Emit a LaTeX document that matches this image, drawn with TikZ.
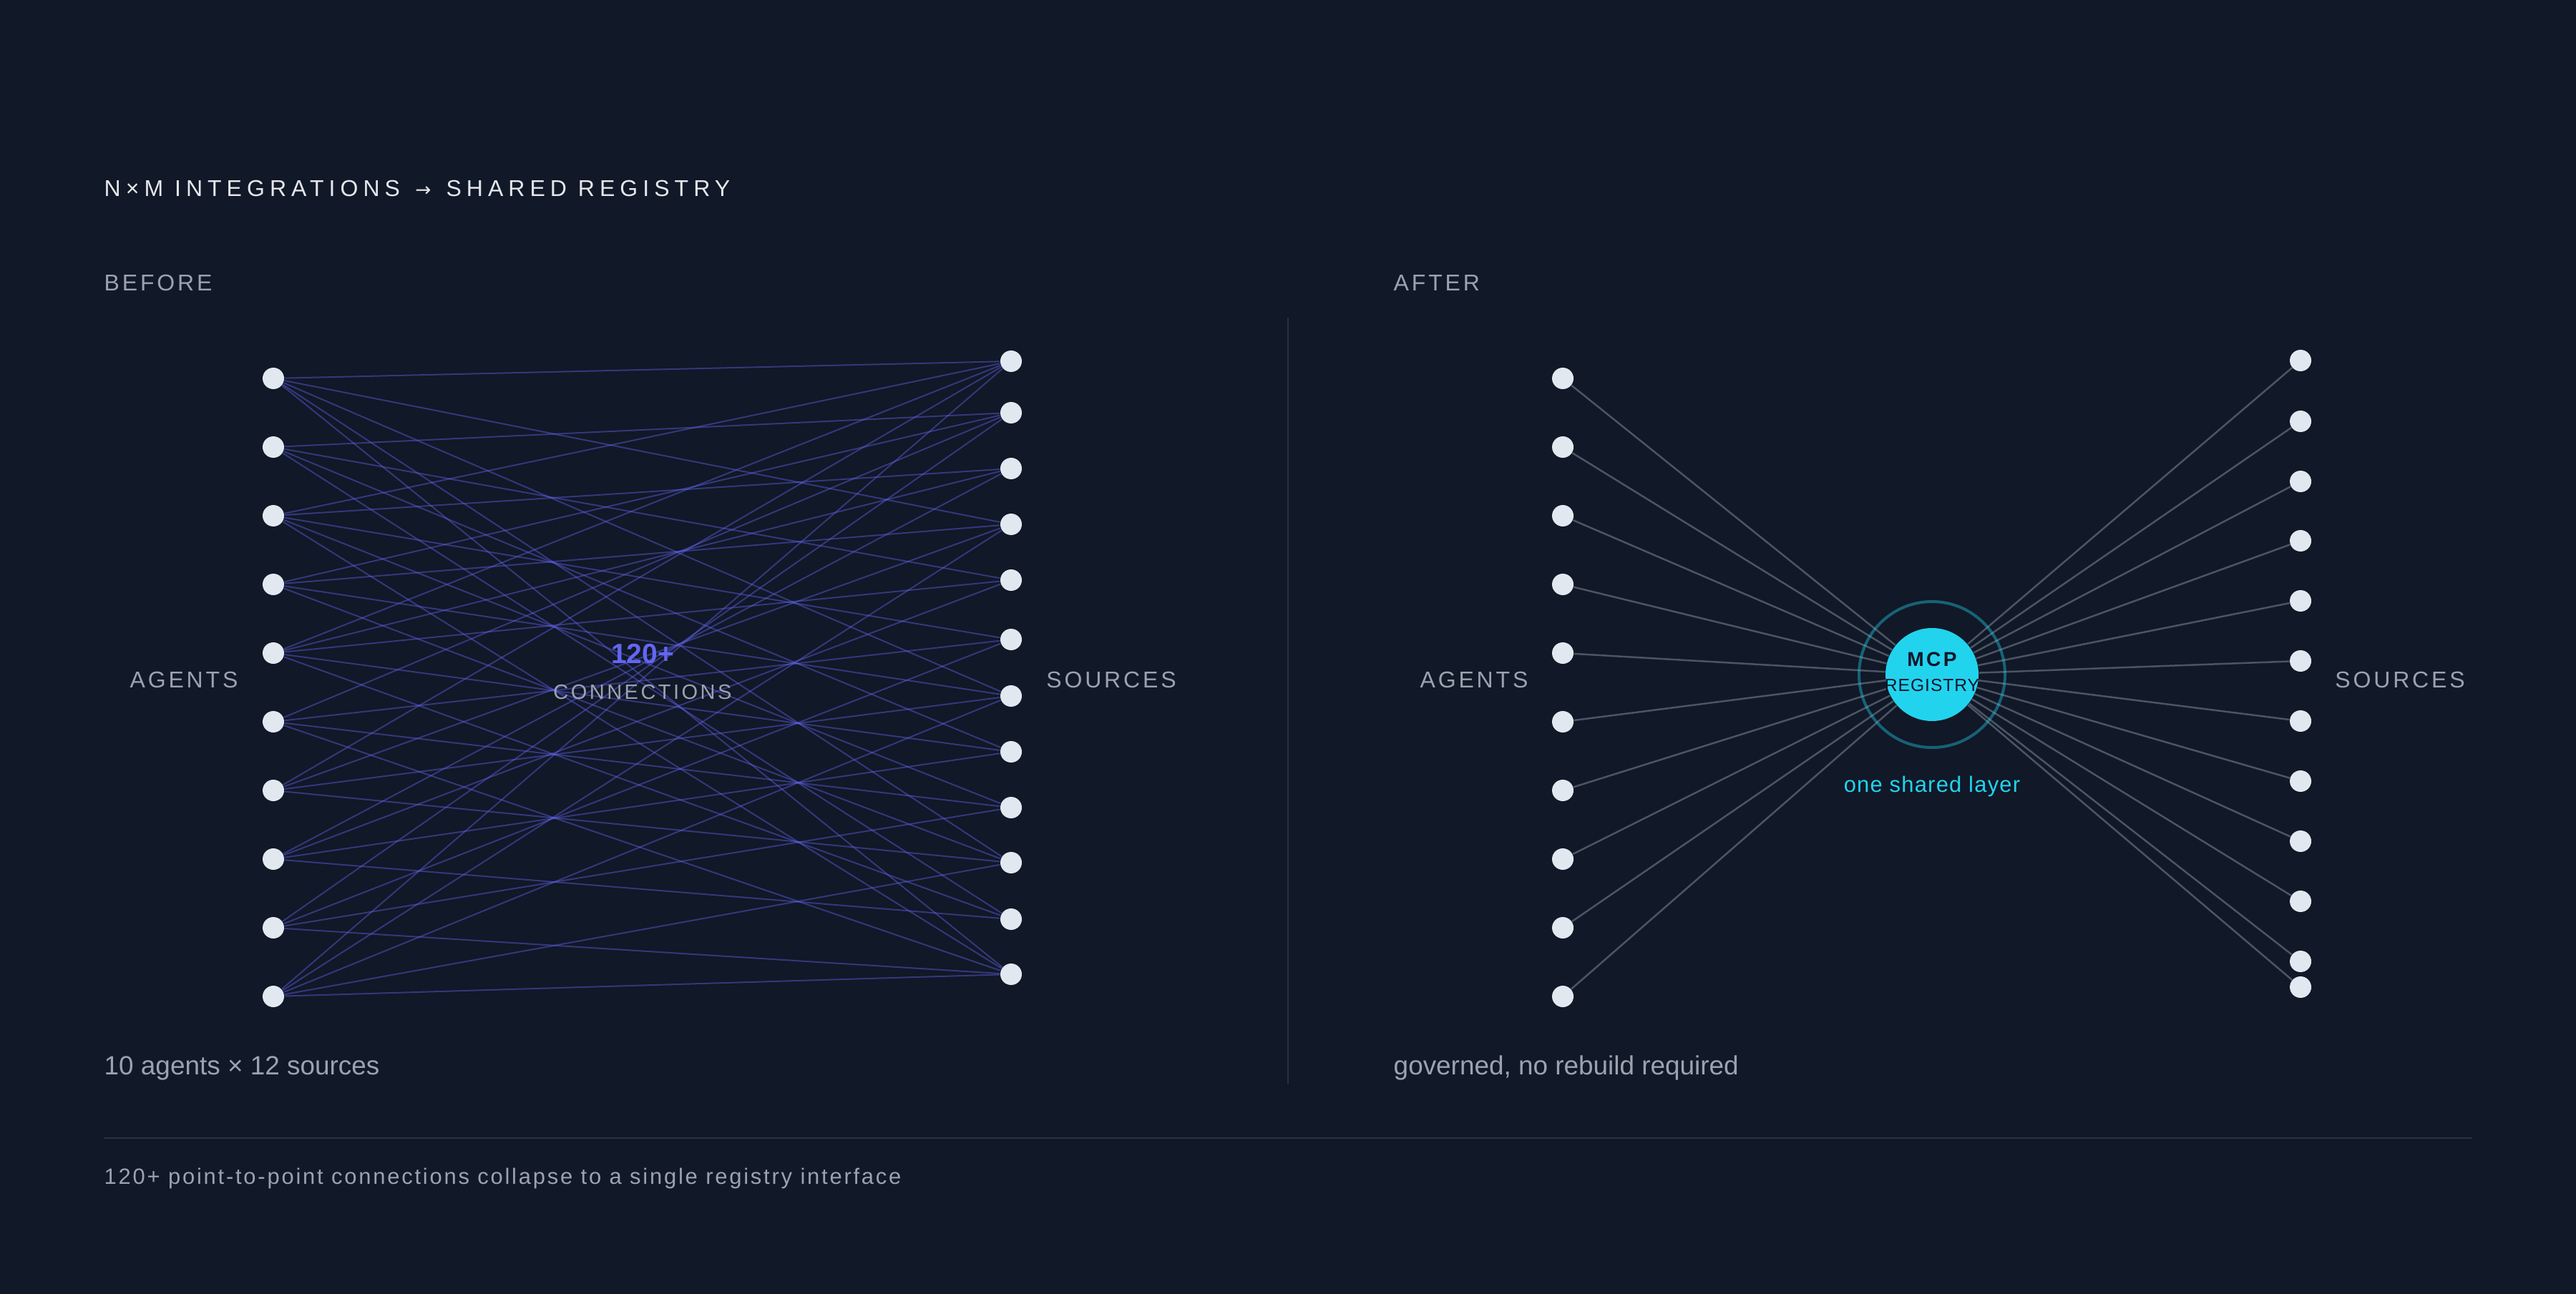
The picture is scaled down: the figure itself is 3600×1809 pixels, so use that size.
\documentclass[tikz,border=0pt]{standalone}
\usepackage{fontspec}
\setmainfont{Liberation Sans}
\newfontfamily\titlefont[LetterSpace=22]{Liberation Sans}
\newfontfamily\capsfont[LetterSpace=12]{Liberation Sans}
\newfontfamily\softfont[LetterSpace=4]{Liberation Sans}
\newfontfamily\notefont[LetterSpace=9]{Liberation Sans}
\newfontfamily\symfont{DejaVu Sans}
\usetikzlibrary{positioning}

\definecolor{bgnavy}{HTML}{111827}
\definecolor{dotfill}{HTML}{E2E8F0}
\definecolor{indigo}{HTML}{6366F1}
\definecolor{cyanreg}{HTML}{22D3EE}
\definecolor{wire}{HTML}{4B5563}
\definecolor{muted}{HTML}{9CA3AF}
\definecolor{titlegray}{HTML}{E5E7EB}
\definecolor{rulegray}{HTML}{2A3142}
\definecolor{ink}{HTML}{0F172A}

\pgfdeclarelayer{backdrop}
\pgfdeclarelayer{wires}
\pgfsetlayers{backdrop,wires,main}

\tikzset{
  dot/.style={circle, fill=dotfill, inner sep=0pt, minimum size=3mm},
  mesh/.style={draw=indigo, draw opacity=0.42, line width=0.2mm},
  spoke/.style={draw=wire, line width=0.25mm},
  section/.style={anchor=base west, inner sep=0pt, text=muted,
    font=\capsfont\fontsize{9.1}{11}\selectfont},
  sidelabel/.style={inner sep=0pt, text=muted,
    font=\capsfont\fontsize{9.1}{11}\selectfont},
  caption/.style={anchor=base west, inner sep=0pt, text=muted,
    font=\fontsize{10.5}{12}\selectfont},
}

\begin{document}
\begin{tikzpicture}[x=0.1mm, y=-0.1mm]
  \useasboundingbox (0,0) rectangle (3600,1809);
  \begin{pgfonlayer}{backdrop}
    \fill[bgnavy] (0,0) rectangle (3600,1809);
  \end{pgfonlayer}

  % headings
  \node[anchor=base west, inner sep=0pt, text=titlegray,
    font=\titlefont\fontsize{9.1}{11}\selectfont] (title) at (145,275)
    {N×M INTEGRATIONS\, {\symfont\fontsize{7.5}{9}\selectfont →}\, SHARED REGISTRY};
  \node[section] (before) at (145,407) {BEFORE};
  \node[section] (after) at (1947,407) {AFTER};

  % before: every agent wired to its sources
  \foreach \y [count=\i] in {529,625,721,817,913,1009,1105,1201,1297,1393}
    \node[dot] (a\i) at (382,\y) {};
  \foreach \y [count=\j] in {505,577,655,733,811,894,973,1051,1129,1206,1285,1362}
    \node[dot] (s\j) at (1413,\y) {};
  \begin{pgfonlayer}{wires}
    \foreach \i/\j in {1/1,1/4,1/7,1/10,1/12, 2/2,2/5,2/8,2/11,
        3/1,3/3,3/6,3/9,3/12, 4/2,4/4,4/7,4/10, 5/1,5/3,5/5,5/8,5/11,
        6/2,6/6,6/9,6/12, 7/1,7/4,7/7,7/10, 8/3,8/5,8/8,8/11,
        9/2,9/6,9/9,9/12, 10/1,10/4,10/7,10/10,10/12}
      \draw[mesh] (a\i) -- (s\j);
  \end{pgfonlayer}
  \node[sidelabel] (agentsL) at (257,950) {AGENTS};
  \node[sidelabel] (sourcesL) at (1553,950) {SOURCES};
  \node[inner sep=0pt, text=indigo, font=\bfseries\fontsize{11.1}{13}\selectfont]
    (count) at (898,914) {120+};
  \node[inner sep=0pt, text=muted, font=\capsfont\fontsize{8.25}{10}\selectfont]
    (connL) at (898,968) {CONNECTIONS};

  \draw[rulegray, line width=0.2mm] (1800,444) -- (1800,1515);

  % after: one registry in the middle
  \node[circle, fill=cyanreg, inner sep=0pt, minimum size=13mm] (reg) at (2700,943) {};
  \node[circle, draw=cyanreg, draw opacity=0.4, line width=0.4mm,
    inner sep=0pt, minimum size=20.4mm] (ring) at (reg) {};
  \foreach \y [count=\i] in {529,625,721,817,913,1009,1105,1201,1297,1393}
    \node[dot] (p\i) at (2184,\y) {};
  \foreach \y [count=\j] in {504,589,673,756,840,924,1008,1092,1176,1260,1344,1380}
    \node[dot] (q\j) at (3215,\y) {};
  \begin{pgfonlayer}{wires}
    \foreach \i in {1,...,10}
      \draw[spoke] (p\i) -- (reg);
    \foreach \j in {1,...,12}
      \draw[spoke] (q\j) -- (reg);
  \end{pgfonlayer}
  \node[inner sep=0pt, text=ink, font=\capsfont\bfseries\fontsize{8}{10}\selectfont]
    (mcp) at ([yshift=2.1mm]reg.center) {MCP};
  \node[inner sep=0pt, text=ink, font=\softfont\fontsize{7}{8}\selectfont]
    (regtext) at ([yshift=-1.5mm]reg.center) {REGISTRY};
  \node[anchor=base, inner sep=0pt, text=cyanreg, font=\softfont\fontsize{8.8}{10}\selectfont]
    (shared) at (2700,1107) {one shared layer};
  \node[sidelabel] (agentsR) at (2060,950) {AGENTS};
  \node[sidelabel] (sourcesR) at (3354,950) {SOURCES};

  % captions
  \node[caption] (capL) at (145,1502) {10 agents × 12 sources};
  \node[caption] (capR) at (1947,1502) {governed, no rebuild required};
  \draw[rulegray, line width=0.25mm] (145,1591) -- (3455,1591);
  \node[caption, font=\notefont\fontsize{8.8}{10}\selectfont] (footer) at (145,1655)
    {120+ point-to-point connections collapse to a single registry interface};
\end{tikzpicture}
\end{document}
